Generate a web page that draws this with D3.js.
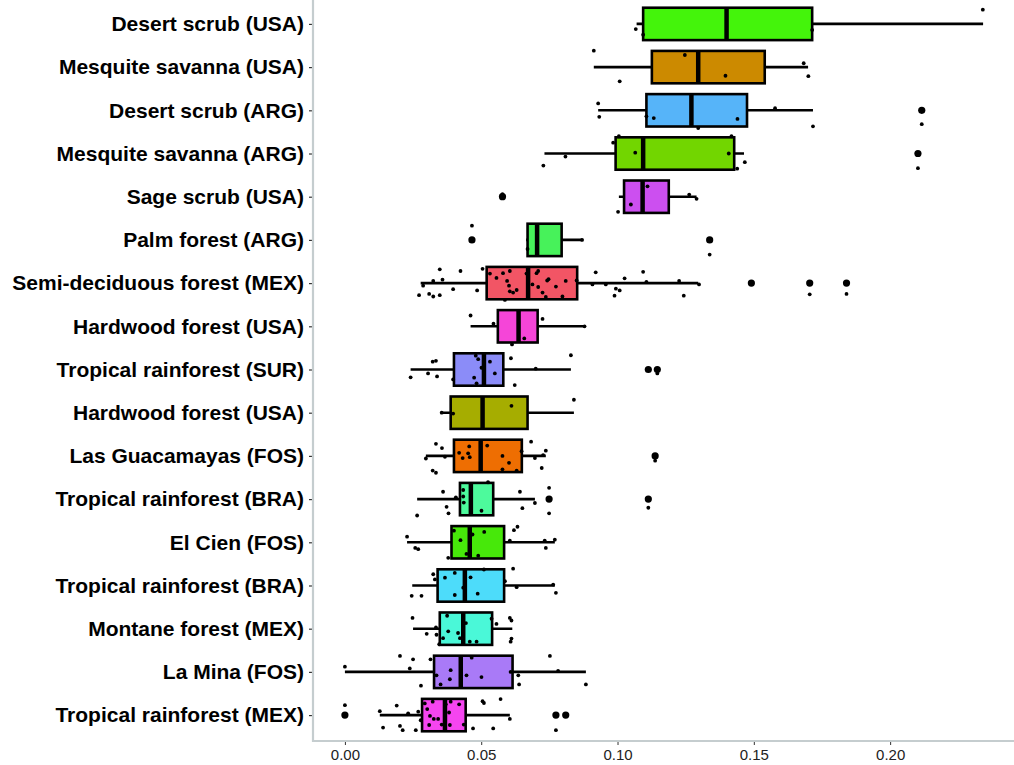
<!DOCTYPE html>
<html>
<head>
<meta charset="utf-8">
<script src="https://cdn.jsdelivr.net/npm/d3@7"></script>
<style>
	body { margin: 0; background: #fff; }
	svg { display: block; }
</style>
</head>
<body>
<svg id="chart" width="1014" height="765"></svg>
<script>
// sites, top to bottom
let sites = [
	'Desert scrub (USA)',
	'Mesquite savanna (USA)',
	'Desert scrub (ARG)',
	'Mesquite savanna (ARG)',
	'Sage scrub (USA)',
	'Palm forest (ARG)',
	'Semi-deciduous forest (MEX)',
	'Hardwood forest (USA)',
	'Tropical rainforest (SUR)',
	'Hardwood forest (USA) ',
	'Las Guacamayas (FOS)',
	'Tropical rainforest (BRA)',
	'El Cien (FOS)',
	'Tropical rainforest (BRA) ',
	'Montane forest (MEX)',
	'La Mina (FOS)',
	'Tropical rainforest (MEX)'
]

let cols = [
	'#44f40b', '#cc8a00', '#56b4f9', '#72d600', '#cc4ff0', '#47f25a',
	'#f25565', '#f545d8', '#8b8cf8', '#a6ad00', '#ee6e02', '#4dfa9c',
	'#47e80a', '#4ddcfa', '#4af8d8', '#a97af7', '#f545f0'
]

// box stats
let lo  = [0.1070, 0.0913, 0.0929, 0.0732, 0.1005, 0.0665, 0.0278, 0.0461, 0.0241, 0.0355, 0.0297, 0.0265, 0.0228, 0.0247, 0.0250, 0.0000, 0.0128]
let q1  = [0.1094, 0.1126, 0.1106, 0.0993, 0.1024, 0.0670, 0.0520, 0.0561, 0.0400, 0.0388, 0.0400, 0.0422, 0.0391, 0.0340, 0.0348, 0.0327, 0.0283]
let med = [0.1400, 0.1296, 0.1271, 0.1094, 0.1092, 0.0705, 0.0672, 0.0637, 0.0510, 0.0505, 0.0498, 0.0462, 0.0458, 0.0440, 0.0434, 0.0425, 0.0367]
let q3  = [0.1714, 0.1540, 0.1475, 0.1428, 0.1188, 0.0795, 0.0852, 0.0707, 0.0581, 0.0670, 0.0649, 0.0544, 0.0584, 0.0584, 0.0540, 0.0615, 0.0443]
let hi  = [0.2341, 0.1699, 0.1717, 0.1464, 0.1290, 0.0870, 0.1296, 0.0879, 0.0829, 0.0840, 0.0737, 0.0697, 0.0770, 0.0770, 0.0614, 0.0884, 0.0605]

let outliers = [
	[],
	[],
	[0.2116],
	[0.2102],
	[0.0578],
	[0.0466, 0.1338],
	[0.1491, 0.1705, 0.1840],
	[],
	[0.1113, 0.1146],
	[],
	[0.1138],
	[0.0749, 0.1113],
	[],
	[],
	[],
	[],
	[0.0, 0.0774, 0.0810]
]

// jittered raw values: [value, vertical jitter in category units]
let jitter = [
	[[0.2340,-0.33],[0.1067,0.12],[0.1094,0.25],[0.1714,0.14]],
	[[0.0913,-0.38],[0.1247,-0.28],[0.1008,0.33],[0.1396,0.20],[0.1683,-0.09],[0.1700,0.21]],
	[[0.0929,-0.16],[0.0933,0.15],[0.1133,0.18],[0.1106,0.14],[0.1440,0.20],[0.1578,-0.05],[0.1717,0.37],[0.1296,0.41],[0.2116,0.32]],
	[[0.1005,-0.40],[0.0984,-0.25],[0.1065,-0.02],[0.1408,0.0],[0.1418,-0.40],[0.1467,0.20],[0.1439,0.35],[0.2102,0.34],[0.0809,0.07],[0.0728,0.28]],
	[[0.1110,-0.24],[0.1049,0.18],[0.1002,0.35],[0.1263,-0.05],[0.1290,0.05],[0.0578,-0.06]],
	[[0.0466,-0.33],[0.1338,0.34],[0.0870,0.0],[0.0670,0.21]],
	[[0.0287,0.06],[0.0272,0.28],[0.0309,0.25],[0.0324,0.31],[0.0348,0.28],[0.0324,-0.05],[0.0358,-0.08],[0.0348,-0.32],
	 [0.0424,-0.28],[0.0397,0.14],[0.0485,0.17],[0.0505,-0.33],[0.0532,-0.22],[0.0556,-0.12],[0.0580,-0.23],[0.0605,-0.28],
	 [0.0595,-0.05],[0.0602,0.06],[0.0605,0.19],[0.0617,0.22],[0.0630,0.16],[0.0587,0.39],[0.0666,-0.22],[0.0703,-0.23],
	 [0.0709,-0.28],[0.0688,0.03],[0.0709,0.09],[0.0725,0.22],[0.0742,-0.06],[0.0747,-0.09],[0.0774,0.08],[0.0810,-0.05],
	 [0.0850,-0.06],[0.0798,0.31],[0.0737,0.32],[0.0908,0.03],[0.0920,-0.25],[0.0957,0.03],[0.0994,0.13],[0.1008,0.17],
	 [0.0989,0.29],[0.1026,-0.11],[0.1094,-0.26],[0.1106,-0.03],[0.1226,-0.05],[0.1243,0.29],[0.1299,0.03],[0.1705,0.26],[0.1840,0.25]],
	[[0.0461,-0.25],[0.0545,-0.06],[0.0725,-0.17],[0.0658,0.28],[0.0613,0.42],[0.0879,0.0]],
	[[0.0241,0.18],[0.0305,0.09],[0.0322,-0.18],[0.0334,-0.20],[0.0338,0.16],[0.0397,0.23],[0.0480,-0.32],[0.0489,-0.24],
	 [0.0501,-0.04],[0.0474,0.19],[0.0483,0.32],[0.0532,-0.18],[0.0550,0.09],[0.0609,-0.26],[0.0623,0.36],[0.0700,-0.02],
	 [0.0829,-0.33],[0.1146,0.09]],
	[[0.0397,0.02],[0.0611,-0.16],[0.0840,-0.30],[0.0355,0.0]],
	[[0.0334,-0.28],[0.0356,-0.18],[0.0297,0.06],[0.0367,0.02],[0.0322,0.34],[0.0334,0.39],[0.0419,-0.07],[0.0432,0.05],
	 [0.0456,-0.22],[0.0452,-0.06],[0.0458,0.03],[0.0522,-0.24],[0.0578,0.0],[0.0602,0.16],[0.0578,0.31],[0.0630,0.34],
	 [0.0648,-0.11],[0.0683,-0.33],[0.0697,0.05],[0.0727,-0.02],[0.0737,-0.12],[0.0722,0.28],[0.1138,0.11]],
	[[0.0360,-0.17],[0.0265,0.38],[0.0373,0.18],[0.0380,0.33],[0.0407,-0.04],[0.0434,-0.06],[0.0436,0.08],[0.0434,-0.21],
	 [0.0501,0.27],[0.0525,-0.39],[0.0642,-0.17],[0.0651,0.21],[0.0697,0.09],[0.0749,-0.26],[0.0749,0.33],[0.1113,0.20]],
	[[0.0228,-0.13],[0.0258,0.13],[0.0269,0.16],[0.0379,0.36],[0.0400,-0.27],[0.0424,-0.05],[0.0446,0.27],[0.0468,-0.18],
	 [0.0511,-0.24],[0.0489,0.31],[0.0605,-0.04],[0.0620,-0.28],[0.0633,-0.36],[0.0733,-0.04],[0.0737,0.13],[0.0770,-0.06]],
	[[0.0245,0.24],[0.0281,0.24],[0.0324,-0.26],[0.0330,-0.14],[0.0367,-0.18],[0.0403,-0.29],[0.0403,0.22],[0.0434,0.05],
	 [0.0461,-0.19],[0.0487,0.19],[0.0510,-0.37],[0.0587,-0.10],[0.0617,-0.39],[0.0630,0.04],[0.0764,-0.02],[0.0774,0.17]],
	[[0.0248,-0.25],[0.0300,0.12],[0.0334,-0.03],[0.0336,0.14],[0.0375,-0.30],[0.0379,0.06],[0.0360,0.22],[0.0346,0.36],
	 [0.0415,0.10],[0.0422,0.22],[0.0444,-0.13],[0.0458,0.30],[0.0483,0.30],[0.0538,-0.23],[0.0556,-0.11],[0.0605,-0.25],
	 [0.0611,-0.19],[0.0611,0.23],[0.0608,0.30]],
	[[0.0,-0.12],[0.0202,-0.37],[0.0250,-0.29],[0.0238,-0.08],[0.0279,0.32],[0.0314,-0.29],[0.0336,0.08],[0.0351,0.29],
	 [0.0388,-0.04],[0.0385,0.17],[0.0446,0.08],[0.0465,-0.33],[0.0501,0.12],[0.0608,0.0],[0.0636,0.08],[0.0639,0.29],
	 [0.0752,-0.37],[0.0782,-0.02],[0.0884,0.29]],
	[[0.0,-0.23],[0.0128,-0.09],[0.0140,0.29],[0.0190,-0.22],[0.0202,0.25],[0.0212,0.35],[0.0232,-0.04],[0.0260,0.35],
	 [0.0269,-0.08],[0.0278,0.12],[0.0293,-0.27],[0.0302,-0.14],[0.0312,0.02],[0.0309,0.23],[0.0322,-0.31],[0.0326,0.09],
	 [0.0342,0.09],[0.0355,0.22],[0.0370,-0.25],[0.0382,-0.06],[0.0388,-0.31],[0.0385,0.23],[0.0419,-0.25],[0.0436,0.22],
	 [0.0470,0.31],[0.0505,-0.32],[0.0510,-0.28],[0.0544,0.31],[0.0571,-0.37],[0.0605,0.09],[0.0774,0.35]]
]

let xticks = [0, 0.05, 0.10, 0.15, 0.20]

const panel = {left: 313, right: 1015, top: -2, bottom: 741}

const svg = d3.select('#chart')
	.attr('font-family', '"Liberation Sans", Arial, sans-serif')

// continuous axis gets ggplot's 5% expansion
const allVals = lo.concat(hi, outliers.flat())
const [mn, mx] = d3.extent(allVals)
const pad = (mx - mn) * 0.05
const x = d3.scaleLinear()
	.domain([mn - pad, mx + pad])
	.range([panel.left, panel.right])

const y = d3.scalePoint()
	.domain(sites)
	.range([panel.top, panel.bottom])
	.padding(0.6)

const step = y.step()
const boxH = step * 0.75

const rows = sites.map((s, i) => ({
	site: s, i, lo: lo[i], q1: q1[i], med: med[i], q3: q3[i], hi: hi[i],
	fill: cols[i], out: outliers[i], pts: jitter[i]
}))

const g = svg.append('g')

// whiskers
g.selectAll('.whisk')
	.data(rows)
	.enter()
	.append('line')
	.attr('x1', d => x(d.lo))
	.attr('x2', d => x(d.hi))
	.attr('y1', d => y(d.site))
	.attr('y2', d => y(d.site))
	.attr('stroke', '#000')
	.attr('stroke-width', 2.6)

// boxes
g.selectAll('.box')
	.data(rows)
	.enter()
	.append('rect')
	.attr('x', d => x(d.q1))
	.attr('width', d => x(d.q3) - x(d.q1))
	.attr('y', d => y(d.site) - boxH / 2)
	.attr('height', boxH)
	.attr('fill', d => d.fill)
	.attr('stroke', '#000')
	.attr('stroke-width', 2.6)

// medians
g.selectAll('.med')
	.data(rows)
	.enter()
	.append('line')
	.attr('x1', d => x(d.med))
	.attr('x2', d => x(d.med))
	.attr('y1', d => y(d.site) - boxH / 2)
	.attr('y2', d => y(d.site) + boxH / 2)
	.attr('stroke', '#000')
	.attr('stroke-width', 4.5)

// outliers
g.selectAll('.out')
	.data(rows.flatMap(d => d.out.map(v => ({site: d.site, v}))))
	.enter()
	.append('circle')
	.attr('cx', d => x(d.v))
	.attr('cy', d => y(d.site))
	.attr('r', 3.6)
	.attr('fill', '#000')

// jittered points
g.selectAll('.pt')
	.data(rows.flatMap(d => d.pts.map(p => ({site: d.site, v: p[0], off: p[1]}))))
	.enter()
	.append('circle')
	.attr('cx', d => x(d.v))
	.attr('cy', d => y(d.site) + d.off * step)
	.attr('r', 1.9)
	.attr('fill', '#000')

// axes
const xAxis = svg.append('g')
	.attr('transform', `translate(0,${panel.bottom})`)
	.call(d3.axisBottom(x).tickValues(xticks).tickFormat(d3.format('.2f')).tickSize(4).tickPadding(4))
xAxis.select('.domain').remove()
xAxis.selectAll('.tick line').attr('stroke', '#333').attr('stroke-width', 1)
xAxis.selectAll('.tick text')
	.attr('font-size', 15)
	.attr('fill', '#222')

const yAxis = svg.append('g')
	.attr('transform', `translate(${panel.left},0)`)
	.call(d3.axisLeft(y).tickSize(4).tickPadding(5))
yAxis.select('.domain').remove()
yAxis.selectAll('.tick line').attr('stroke', '#333').attr('stroke-width', 1.2)
yAxis.selectAll('.tick text')
	.attr('font-size', 21)
	.attr('font-weight', 'bold')
	.attr('fill', '#000')
	.text(d => d.trim())

// axis lines (light grey, ggplot-ish)
svg.append('line')
	.attr('x1', panel.left).attr('x2', panel.left)
	.attr('y1', 0).attr('y2', panel.bottom + 1)
	.attr('stroke', '#c5cdcf').attr('stroke-width', 2.2)
svg.append('line')
	.attr('x1', panel.left - 1).attr('x2', panel.right)
	.attr('y1', panel.bottom).attr('y2', panel.bottom)
	.attr('stroke', '#c5cdcf').attr('stroke-width', 2.2)
</script>
</body>
</html>
